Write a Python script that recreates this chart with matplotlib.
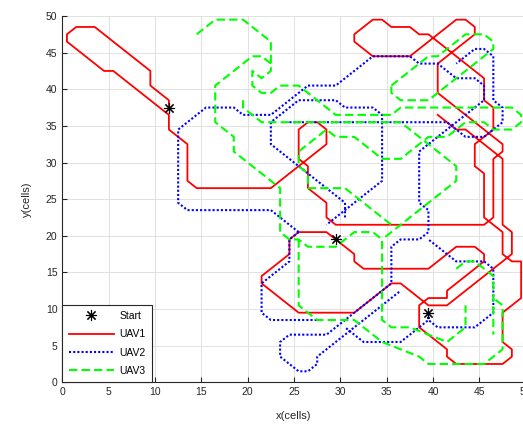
import numpy as np
import matplotlib
matplotlib.use('Agg')
import matplotlib.pyplot as plt

nan = np.nan

# start cells of the three UAVs
start_x = [11.5, 29.5, 39.5]
start_y = [37.5, 19.5, 9.5]

# UAV1 route (cell centres)
uav1_x = [11.5, 11.5, 9.5, 9.5, 3.5, 1.5, 0.5, 0.5, 4.5, 5.5, 11.5, 11.5, 13.5, 13.5, 14.5, 22.5,
          28.5, 28.5, 27.5, 26.5, 25.5, 25.5, 26.5, 26.5, 28.5, 28.5, 29.5, 45.5, 46.5, 46.5, 47.5,
          47.5, 40.5, 40.5, 44.5, 44.5, 43.5, 42.5, 37.5, 33.5, 31.5, 31.5, 33.5, 34.5, 35.5, 37.5,
          38.5, 39.5, 45.5, 45.5, 46.5, 46.5, 44.5, 44.5, 45.5, 45.5, 47.5, 47.5, 48.5, 49.5, 49.5,
          47.5, 47.5, 48.5, 48.5, 47.5, 42.5, 41.5, 41.5, 38.5, 38.5, 39.5, 41.5, 41.5, 45.5, 45.5,
          44.5, 42.5, 39.5, 32.5, 31.5, 31.5, 29.5, 28.5, 25.5, 24.5, 24.5, 21.5, 21.5, 25.5, 31.5,
          35.5, 36.5, 39.5, 41.5, 47.5, 48.5, 48.5, 47.5, 47.5, 43.5, 42.5, 40.5]
uav1_y = [37.5, 38.5, 40.5, 42.5, 48.5, 48.5, 47.5, 46.5, 42.5, 42.5, 36.5, 34.5, 32.5, 27.5, 26.5, 26.5,
          32.5, 34.5, 35.5, 35.5, 34.5, 30.5, 29.5, 26.5, 24.5, 22.5, 21.5, 21.5, 22.5, 30.5, 31.5,
          32.5, 39.5, 43.5, 47.5, 48.5, 49.5, 49.5, 44.5, 44.5, 46.5, 47.5, 49.5, 49.5, 48.5, 48.5,
          47.5, 47.5, 41.5, 38.5, 37.5, 34.5, 32.5, 29.5, 28.5, 22.5, 20.5, 17.5, 16.5, 16.5, 11.5,
          9.5, 5.5, 4.5, 3.5, 2.5, 2.5, 3.5, 4.5, 7.5, 10.5, 11.5, 11.5, 12.5, 16.5, 17.5,
          18.5, 18.5, 15.5, 15.5, 16.5, 17.5, 19.5, 20.5, 20.5, 19.5, 17.5, 14.5, 13.5, 9.5, 9.5,
          13.5, 13.5, 10.5, 10.5, 16.5, 17.5, 20.5, 21.5, 30.5, 34.5, 34.5, 36.5]

# UAV2 route, nan marks a gap
uav2_x = [39.5, 39.5, 40.5, 44.5, 46.5, 46.5, 45.5, 42.5, 39.5, nan,
          25.5, 22.5, 13.5, 12.5, 12.5, 15.5, 18.5, 19.5, 22.5, 26.5, 29.5, 33.5, 37.5, 38.5,
          40.5, 42.5, 44.5, 45.5, 45.5, 38.5, 38.5, 39.5, 39.5, 38.5, 36.5, 35.5, 35.5, 28.5,
          24.5, 23.5, 23.5, 25.5, 26.5, 27.5, 27.5, 36.5, nan,
          30.5, 30.5, 22.5, 22.5, 25.5, 29.5, 30.5, 33.5, 34.5, 34.5, 28.5, nan,
          24.5, 41.5, 43.5, 45.5, 47.5, 47.5, 46.5, 46.5, 45.5, 44.5, 42.5, nan,
          25.5, 24.5, 24.5, 21.5, 21.5, 22.5, 27.5, nan,
          39.5, 39.5, 36.5, 32.5, 30.5]
uav2_y = [9.5, 8.5, 7.5, 7.5, 9.5, 15.5, 16.5, 16.5, 19.5, nan,
          20.5, 23.5, 23.5, 24.5, 34.5, 37.5, 37.5, 36.5, 36.5, 40.5, 40.5, 44.5, 44.5, 43.5,
          43.5, 41.5, 41.5, 40.5, 38.5, 31.5, 24.5, 23.5, 20.5, 19.5, 19.5, 18.5, 13.5, 6.5,
          6.5, 5.5, 3.5, 1.5, 1.5, 2.5, 3.5, 12.5, nan,
          22.5, 24.5, 32.5, 35.5, 38.5, 38.5, 37.5, 37.5, 36.5, 27.5, 21.5, nan,
          35.5, 35.5, 33.5, 33.5, 35.5, 37.5, 38.5, 44.5, 45.5, 45.5, 43.5, nan,
          20.5, 19.5, 16.5, 13.5, 9.5, 8.5, 8.5, nan,
          9.5, 8.5, 5.5, 5.5, 7.5]

# UAV3 route, nan marks a gap
uav3_x = [14.5, 16.5, 19.5, 22.5, 22.5, 21.5, 20.5, 20.5, 21.5, 22.5, 23.5, 25.5, 29.5, 35.5,
          36.5, 48.5, 49.5, 49.5, 48.5, 46.5, 45.5, 43.5, 41.5, 39.5, 36.5, 34.5, 31.5, 29.5,
          28.5, 25.5, 25.5, 26.5, 26.5, 30.5, 35.5, nan,
          22.5, 21.5, 20.5, 16.5, 16.5, 18.5, 18.5, 22.5, 23.5, 23.5, 24.5, 25.5, 26.5, 29.5,
          31.5, 33.5, 34.5, 34.5, 35.5, 37.5, 41.5, 43.5, 43.5, nan,
          19.5, 19.5, 21.5, 36.5, 37.5, 42.5, 42.5, 34.5, nan,
          35.5, 39.5, 40.5, 43.5, 45.5, 46.5, 46.5, 39.5, 36.5, 35.5, 35.5, nan,
          25.5, 25.5, 27.5, 31.5, 34.5, 38.5, 39.5, 45.5, 47.5, 47.5, 46.5, nan,
          42.5, 43.5, 44.5, 46.5, 46.5]
uav3_y = [47.5, 49.5, 49.5, 46.5, 42.5, 41.5, 42.5, 40.5, 39.5, 39.5, 40.5, 40.5, 36.5, 36.5,
          37.5, 37.5, 36.5, 35.5, 34.5, 34.5, 35.5, 35.5, 33.5, 33.5, 30.5, 30.5, 33.5, 33.5,
          34.5, 31.5, 29.5, 28.5, 26.5, 26.5, 21.5, nan,
          43.5, 44.5, 44.5, 40.5, 35.5, 33.5, 31.5, 27.5, 26.5, 20.5, 19.5, 19.5, 18.5, 18.5,
          20.5, 20.5, 19.5, 8.5, 7.5, 7.5, 5.5, 7.5, 10.5, nan,
          38.5, 37.5, 35.5, 35.5, 34.5, 29.5, 27.5, 19.5, nan,
          40.5, 44.5, 44.5, 47.5, 47.5, 46.5, 45.5, 38.5, 38.5, 39.5, 40.5, nan,
          19.5, 10.5, 8.5, 8.5, 5.5, 3.5, 2.5, 2.5, 4.5, 10.5, 11.5, nan,
          15.5, 16.5, 16.5, 14.5, 6.5]

fig = plt.figure(figsize=(5.23, 4.25), dpi=100)
ax = fig.add_axes([0.1191, 0.1005, 0.8862, 0.8619])

ax.plot(start_x, start_y, linestyle='none', marker=(8, 2, 0), markersize=8,
        markeredgewidth=0.8, color='black', label='Start', zorder=5)
ax.plot(uav1_x, uav1_y, color=(1, 0, 0), linewidth=1.3, label='UAV1')
ax.plot(uav2_x, uav2_y, color=(0, 0, 1), linewidth=1.5, linestyle=(0, (1, 1)), label='UAV2')
ax.plot(uav3_x, uav3_y, color=(0, 1, 0), linewidth=1.5, linestyle=(0, (4, 2)), label='UAV3')

ax.set_xlim(0, 50)
ax.set_ylim(0, 50)
ax.set_xticks(np.arange(0, 51, 5))
ax.set_yticks(np.arange(0, 51, 5))
ax.grid(True, color='#dcdcdc', linewidth=0.6)
ax.set_axisbelow(True)
for side in ('top', 'right'):
    ax.spines[side].set_visible(False)
for side in ('left', 'bottom'):
    ax.spines[side].set_color('#262626')
    ax.spines[side].set_linewidth(0.8)
ax.tick_params(direction='in', length=3.5, width=0.8, colors='#262626', labelsize=7.5,
               labelfontfamily='Liberation Sans')
ax.set_xlabel('x(cells)', fontsize=8, family='Liberation Sans', color='#262626', labelpad=10)
ax.set_ylabel('y(cells)', fontsize=8, family='Liberation Sans', color='#262626', labelpad=10)

leg = ax.legend(loc='lower left', bbox_to_anchor=(0, 0), borderaxespad=0, fancybox=False,
                framealpha=1, edgecolor='#262626', handlelength=4.4, handletextpad=0.5,
                labelspacing=0.8, borderpad=0.6, prop={'family': 'Liberation Sans', 'size': 7.5})
leg.get_frame().set_linewidth(0.8)

fig.savefig('out.png', dpi=100)
